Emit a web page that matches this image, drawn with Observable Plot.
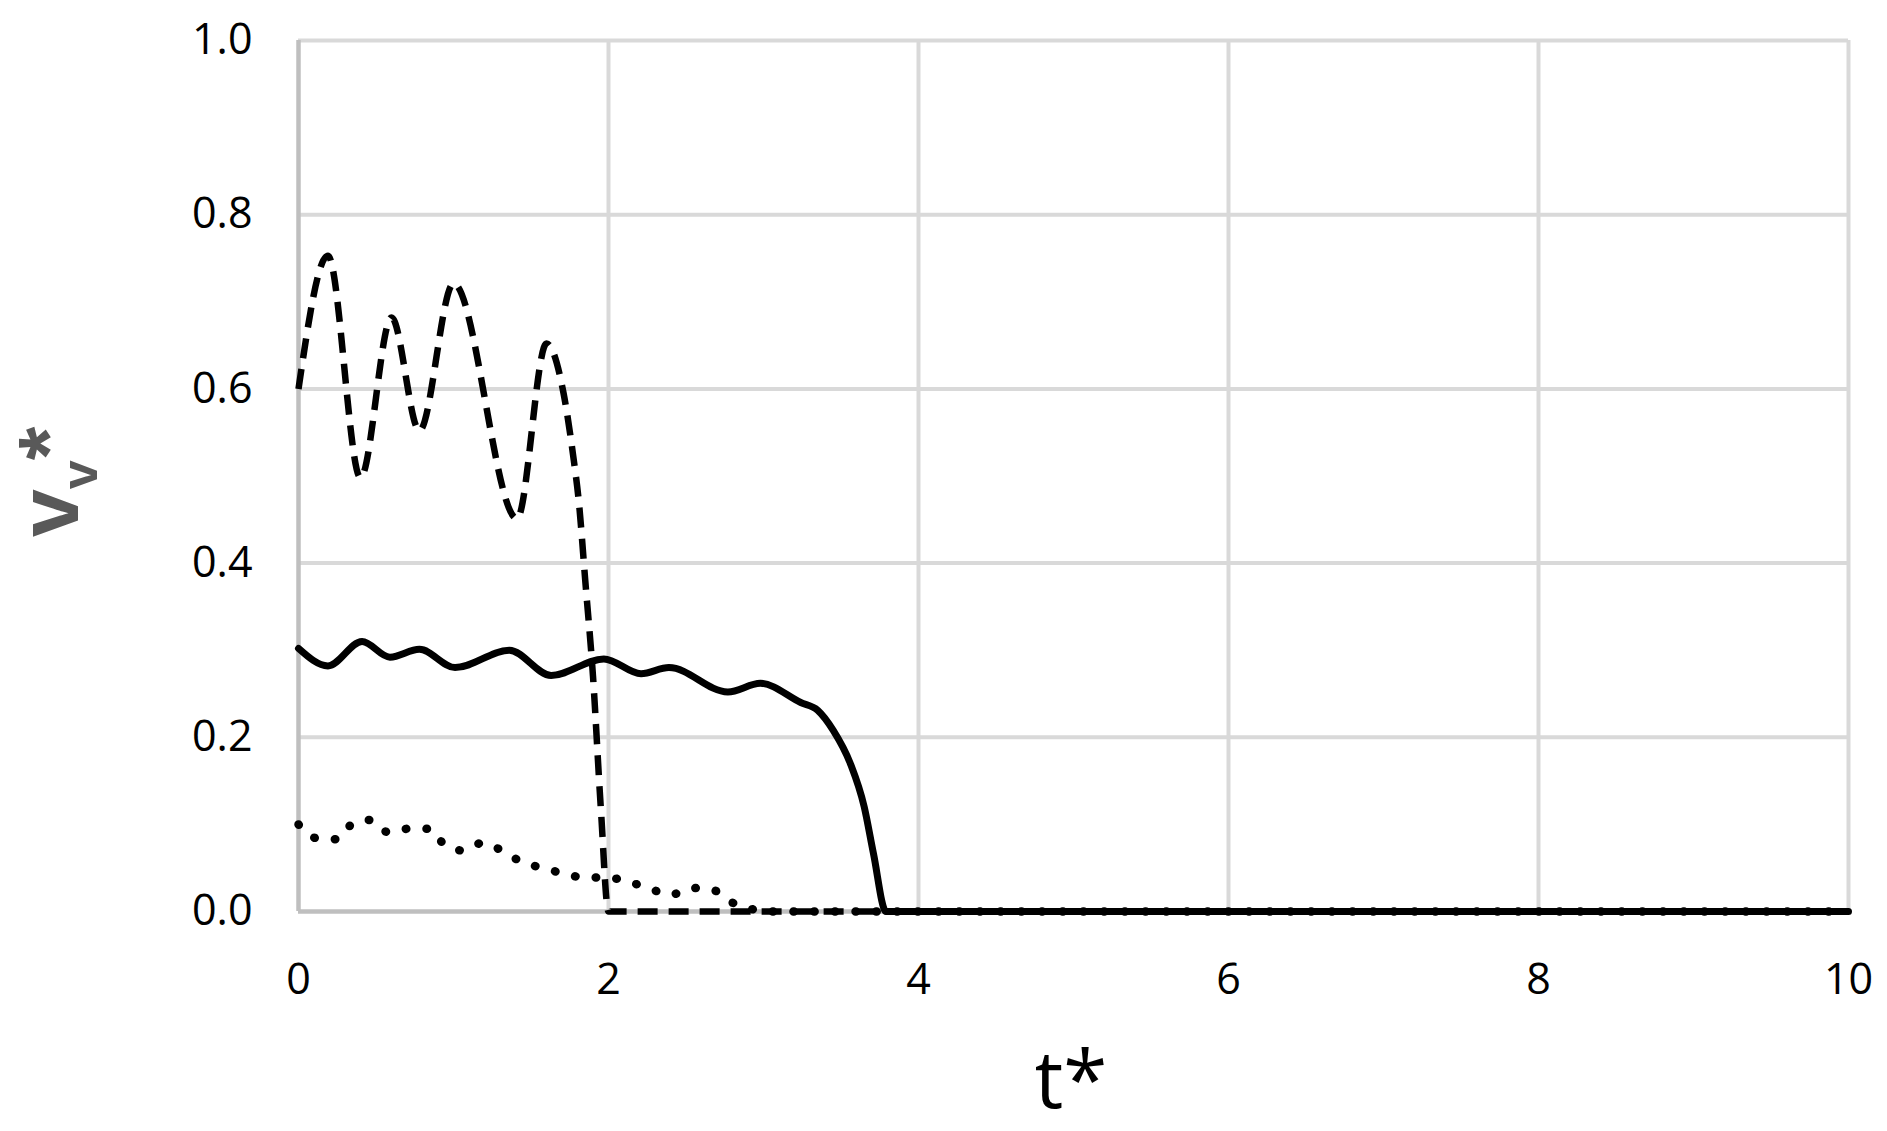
<!DOCTYPE html>
<html><head><meta charset="utf-8">
<script src="https://cdn.jsdelivr.net/npm/d3@7"></script>
<script src="https://cdn.jsdelivr.net/npm/@observablehq/plot@0.6"></script>
<style>html,body{margin:0;padding:0;background:#fff;} #chart{width:1887px;height:1131px;}</style>
</head><body><div id="chart"></div>
<script>
// Axis ticks
const xTicks = [0, 2, 4, 6, 8, 10];
const yTicks = [0, 0.2, 0.4, 0.6, 0.8, 1.0];

// Solid series
const tSolid = [0, 0.19, 0.41, 0.59, 0.78, 1.01, 1.36, 1.63, 1.97, 2.21, 2.39, 2.77, 2.98, 3.24, 3.35, 3.45, 3.56, 3.65, 3.71, 3.79, 10];
const vSolid = [0.302, 0.282, 0.31, 0.292, 0.301, 0.28, 0.30, 0.271, 0.29, 0.273, 0.28, 0.252, 0.262, 0.24, 0.231, 0.208, 0.17, 0.12, 0.066, 0.0, 0.0];

// Dashed series
const tDashed = [0, 0.19, 0.40, 0.60, 0.78, 1.00, 1.41, 1.60, 1.71, 1.77, 1.81, 1.85, 1.90, 1.95, 2.0, 10];
const vDashed = [0.60, 0.753, 0.498, 0.682, 0.552, 0.721, 0.451, 0.652, 0.595, 0.526, 0.468, 0.38, 0.27, 0.12, 0.0, 0.0];

// Dotted series
const tDotted = [0, 0.12, 0.25, 0.35, 0.46, 0.58, 0.71, 0.85, 0.94, 1.06, 1.19, 1.32, 1.45, 1.58, 1.72, 1.85, 1.99, 2.13, 2.27, 2.40, 2.53, 2.67, 2.79, 2.92, 3.0, 10];
const vDotted = [0.10, 0.084, 0.083, 0.101, 0.105, 0.091, 0.095, 0.095, 0.077, 0.07, 0.079, 0.069, 0.056, 0.05, 0.043, 0.039, 0.039, 0.034, 0.026, 0.019, 0.027, 0.025, 0.011, 0.003, 0.0, 0.0];

const rows = (ts, vs) => ts.map((t, i) => ({t, v: vs[i]}));
const solid = rows(tSolid, vSolid);
const dashed = rows(tDashed, vDashed);
const dotted = rows(tDotted, vDotted);

const plot = Plot.plot({
  width: 1887, height: 1131,
  marginLeft: 298, marginRight: 39, marginTop: 40, marginBottom: 220,
  style: {fontFamily: "'Open Sans', sans-serif", fontSize: "43px", color: "#000", background: "#fff", overflow: "visible"},
  x: {domain: [0, 10], label: null},
  y: {domain: [0, 1], label: null},
  marks: [
    Plot.gridX({ticks: xTicks.slice(1), stroke: "#d9d9d9", strokeOpacity: 1, strokeWidth: 4}),
    Plot.gridY({ticks: yTicks.slice(1), stroke: "#d9d9d9", strokeOpacity: 1, strokeWidth: 4}),
    Plot.ruleX([0], {stroke: "#bfbfbf", strokeWidth: 4.5}),
    Plot.ruleY([0], {stroke: "#bfbfbf", strokeWidth: 4.5}),
    Plot.axisX({ticks: xTicks, tickSize: 0, tickPadding: 52, tickFormat: d => String(d), label: null, fill: "#000"}),
    Plot.axisY({ticks: yTicks, tickSize: 0, tickPadding: 46, tickFormat: d3.format(".1f"), label: null, fill: "#000"}),
    Plot.line(dotted, {x: "t", y: "v", stroke: "#000", strokeWidth: 8.5, strokeDasharray: "0.5,20.2", strokeLinecap: "round", curve: "monotone-x"}),
    Plot.line(dashed, {x: "t", y: "v", stroke: "#000", strokeWidth: 6.5, strokeDasharray: "20,11", strokeLinecap: "butt", curve: "monotone-x"}),
    Plot.line(solid, {x: "t", y: "v", stroke: "#000", strokeWidth: 7, curve: "monotone-x"})
  ]
});
document.getElementById("chart").appendChild(plot);

const svg = d3.select(plot);
// y-axis title: v_v*
const yt = svg.append("text")
  .attr("transform", "translate(78,537) rotate(-90)")
  .attr("fill", "#595959")
  .attr("font-family", "'Liberation Sans', Arial, sans-serif")
  .attr("font-weight", "bold")
  .attr("text-anchor", "start");
yt.append("tspan").attr("font-size", 86).text("v");
yt.append("tspan").attr("font-size", 52).attr("dy", 19).text("v");
yt.append("tspan").attr("font-size", 86).attr("dy", -19).text("*");

// x-axis title: t*
svg.append("text")
  .attr("x", 1071).attr("y", 1108)
  .attr("fill", "#000")
  .attr("font-family", "'Open Sans', sans-serif")
  .attr("font-size", 80)
  .attr("text-anchor", "middle")
  .text("t*");
</script>
</body></html>
